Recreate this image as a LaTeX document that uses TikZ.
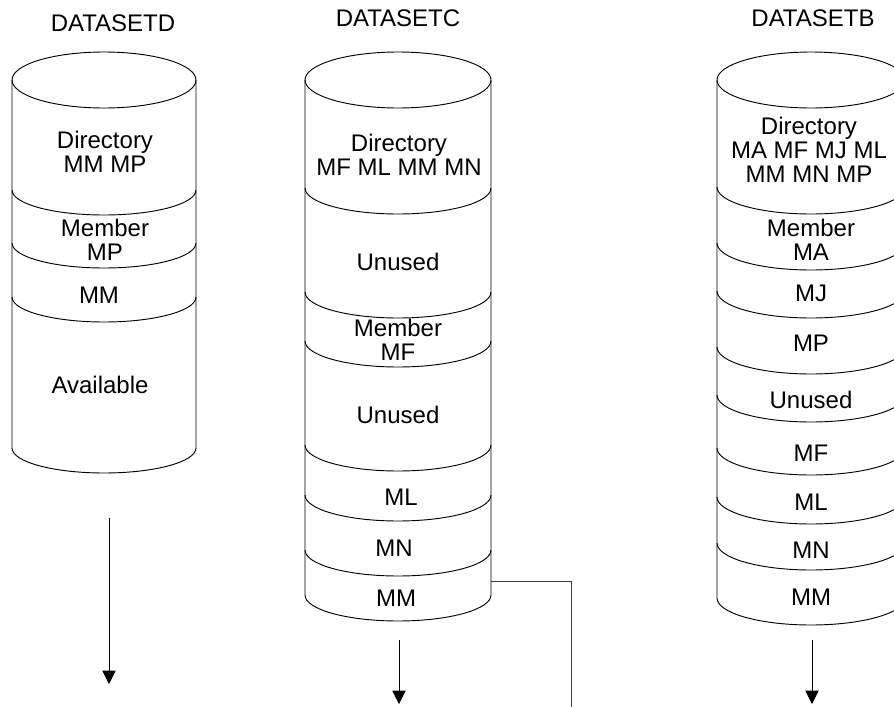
\documentclass[tikz,border=0pt]{standalone}
\usepackage{fontspec}
\setmainfont{Liberation Sans}
\usepackage{tikz}
\usetikzlibrary{arrows.meta}

\tikzset{
  disk/.style={line width=0.7pt},
  lbl/.style={font=\fontsize{18}{18}\selectfont, align=center, inner sep=0pt},
  flow/.style={line width=0.7pt, -{Triangle[length=10pt, width=10pt]}},
  link/.style={line width=0.7pt, draw=black!75}
}

\begin{document}
\begin{tikzpicture}[x=0.75pt, y=-0.75pt]
        % Page frame
        \clip (0,0) rectangle (894,707);
        \fill[white] (0,0) rectangle (894,707);

        % Draw data set D
        \node[lbl] (dName) at (113,23) {DATASETD};
        \draw[disk] (104,80) ellipse[x radius=92, y radius=28];
        \draw[disk] (12,80) -- (12,448) arc[start angle=180, end angle=0, x radius=92, y radius=25] -- (196,80);
        \draw[disk] (12,190) arc[start angle=180, end angle=0, x radius=92, y radius=25];
        \draw[disk] (12,243) arc[start angle=180, end angle=0, x radius=92, y radius=25];
        \draw[disk] (12,297) arc[start angle=180, end angle=0, x radius=92, y radius=25];
        \node[lbl] (dDir) at (105,152) {Directory\\MM MP};
        \node[lbl] (dMemMP) at (105,240) {Member\\MP};
        \node[lbl] (dMM) at (99,295) {MM};
        \node[lbl] (dAvail) at (100,385) {Available};

        % Draw data set C
        \node[lbl] (cName) at (398,18) {DATASETC};
        \draw[disk] (398,80) ellipse[x radius=93, y radius=28];
        \draw[disk] (305,80) -- (305,595) arc[start angle=180, end angle=0, x radius=93, y radius=26] -- (491,80);
        \draw[disk] (305,188) arc[start angle=180, end angle=0, x radius=93, y radius=26];
        \draw[disk] (305,292) arc[start angle=180, end angle=0, x radius=93, y radius=26];
        \draw[disk] (305,341) arc[start angle=180, end angle=0, x radius=93, y radius=26];
        \draw[disk] (305,445) arc[start angle=180, end angle=0, x radius=93, y radius=26];
        \draw[disk] (305,495) arc[start angle=180, end angle=0, x radius=93, y radius=26];
        \draw[disk] (305,550) arc[start angle=180, end angle=0, x radius=93, y radius=26];
        \node[lbl] (cDir) at (399,155) {Directory\\MF ML MM MN};
        \node[lbl] (cFree1) at (398,262) {Unused};
        \node[lbl] (cMemMF) at (398,340) {Member\\MF};
        \node[lbl] (cFree2) at (398,415) {Unused};
        \node[lbl] (cML) at (401,497) {ML};
        \node[lbl] (cMN) at (394,548) {MN};
        \node[lbl] (cMM) at (396,598) {MM};

        % Draw data set B
        \node[lbl] (bName) at (813,18) {DATASETB};
        \draw[disk] (811,80) ellipse[x radius=94, y radius=28];
        \draw[disk] (717,80) -- (717,598) arc[start angle=180, end angle=0, x radius=94, y radius=27] -- (905,80);
        \draw[disk] (717,187) arc[start angle=180, end angle=0, x radius=94, y radius=27];
        \draw[disk] (717,243) arc[start angle=180, end angle=0, x radius=94, y radius=27];
        \draw[disk] (717,291) arc[start angle=180, end angle=0, x radius=94, y radius=27];
        \draw[disk] (717,347) arc[start angle=180, end angle=0, x radius=94, y radius=27];
        \draw[disk] (717,395) arc[start angle=180, end angle=0, x radius=94, y radius=27];
        \draw[disk] (717,448) arc[start angle=180, end angle=0, x radius=94, y radius=27];
        \draw[disk] (717,497) arc[start angle=180, end angle=0, x radius=94, y radius=27];
        \draw[disk] (717,543) arc[start angle=180, end angle=0, x radius=94, y radius=27];
        \node[lbl] (bDir) at (809,150) {Directory\\MA MF MJ ML\\MM MN MP};
        \node[lbl] (bMemMA) at (811,240) {Member\\MA};
        \node[lbl] (bMJ) at (811,293) {MJ};
        \node[lbl] (bMP) at (811,343) {MP};
        \node[lbl] (bFree) at (811,400) {Unused};
        \node[lbl] (bMF) at (811,453) {MF};
        \node[lbl] (bML) at (811,502) {ML};
        \node[lbl] (bMN) at (811,550) {MN};
        \node[lbl] (bMM) at (811,597) {MM};

        % Draw the arrows below the data sets
        \coordinate (dFrom) at (109,518);
        \coordinate (dTo) at (109,684);
        \draw[flow] (dFrom) -- (dTo);
        \coordinate (cFrom) at (399,640);
        \coordinate (cTo) at (399,704);
        \draw[flow] (cFrom) -- (cTo);
        \coordinate (bFrom) at (812,640);
        \coordinate (bTo) at (812,704);
        \draw[flow] (bFrom) -- (bTo);

        % Draw the line leaving data set C
        \coordinate (cSide) at (491,581);
        \coordinate (cExit) at (571,720);
        \draw[link] (cSide) -| (cExit);
    \end{tikzpicture}
\end{document}
